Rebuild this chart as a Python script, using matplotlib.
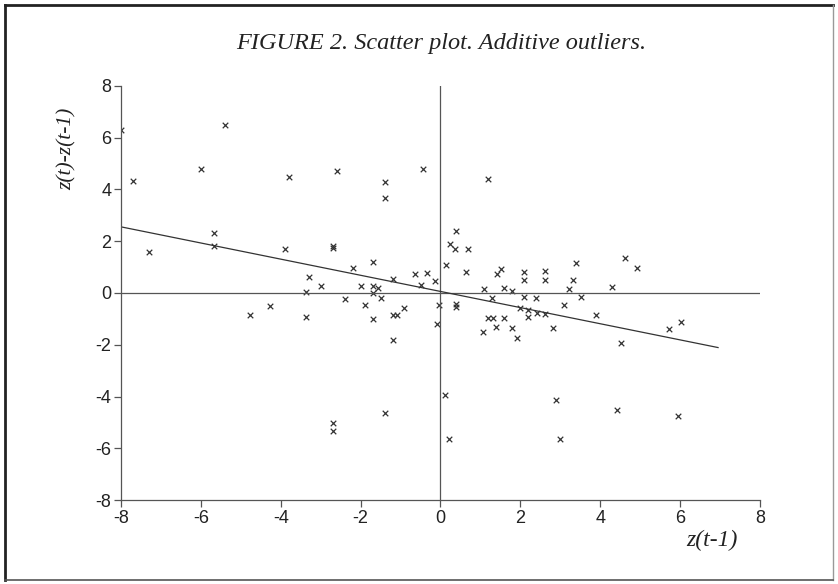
import matplotlib.pyplot as plt
import numpy as np
from matplotlib.lines import Line2D

plt.rcParams["axes.unicode_minus"] = False

# lagged level z(t-1) and first difference z(t)-z(t-1)
z_lag = [-7.99, -7.69, -7.30, -5.99, -5.40, -5.68, -5.68, -3.79, -3.89, -2.59,
         -2.68, -2.68, -1.38, -1.38, -0.44, -3.29, -3.37, -2.98, -2.18, -1.68,
         -1.99, -1.68, -1.68, -1.57, -1.48, -2.38, -1.88, -1.19, -0.65, -0.35,
         -0.14, -0.48, 0.13, 0.25, 0.36, 0.40, 0.39, 0.39, -0.03, -4.77,
         -4.28, -3.37, -1.68, -1.19, -1.08, -0.91, -0.10, -1.19, 0.11, -1.38,
         -2.68, -2.68, 0.21, 1.20, 0.70, 0.63, 1.41, 1.51, 2.10, 2.10,
         2.61, 2.61, 3.40, 3.31, 4.61, 4.91, 4.30, 1.10, 1.59, 1.80,
         3.21, 1.30, 2.10, 2.40, 3.51, 2.00, 2.20, 2.19, 2.42, 2.61,
         3.10, 3.90, 1.20, 1.31, 1.60, 1.40, 1.79, 2.81, 5.73, 6.02,
         1.07, 1.91, 4.51, 2.90, 4.41, 5.94, 3.00]
z_diff = [6.29, 4.32, 1.60, 4.80, 6.49, 2.30, 1.81, 4.50, 1.70, 4.70,
          1.83, 1.73, 4.30, 3.69, 4.79, 0.63, 0.05, 0.27, 0.98, 1.19,
          0.27, 0.27, 0.00, 0.18, -0.20, -0.24, -0.46, 0.53, 0.73, 0.76,
          0.47, 0.31, 1.08, 1.89, 1.69, 2.39, -0.44, -0.53, -0.46, -0.85,
          -0.49, -0.93, -0.99, -0.85, -0.85, -0.59, -1.20, -1.81, -3.94, -4.65,
          -5.03, -5.33, -5.65, 4.40, 1.69, 0.80, 0.73, 0.93, 0.80, 0.51,
          0.86, 0.50, 1.17, 0.51, 1.36, 0.95, 0.23, 0.17, 0.18, 0.08,
          0.14, -0.21, -0.14, -0.19, -0.14, -0.59, -0.66, -0.91, -0.79, -0.82,
          -0.46, -0.85, -0.98, -0.98, -0.98, -1.33, -1.36, -1.36, -1.40, -1.13,
          -1.52, -1.72, -1.93, -4.13, -4.54, -4.75, -5.65]

# fitted line as drawn in the figure
fit_range = [-8.0, 6.95]
fit_intercept = 0.06
fit_slope = -0.312

ticks = [-8, -6, -4, -2, 0, 2, 4, 6, 8]

fig = plt.figure(figsize=(8.38, 5.84), dpi=100)
ax = fig.add_axes([0.1444, 0.1438, 0.7625, 0.709])

ax.axhline(0, color="#555555", lw=0.9)
ax.axvline(0, color="#555555", lw=0.9)

fx = np.array(fit_range)
ax.plot(fx, fit_intercept + fit_slope * fx, color="#333333", lw=0.9)

ax.scatter(z_lag, z_diff, marker="x", s=16, color="#333333", linewidths=0.9)

ax.set_xlim(-8, 8)
ax.set_ylim(-8, 8)
ax.set_xticks(ticks)
ax.set_yticks(ticks)
ax.spines["top"].set_visible(False)
ax.spines["right"].set_visible(False)
for s in ("left", "bottom"):
    ax.spines[s].set_color("#555555")
    ax.spines[s].set_linewidth(0.9)
ax.tick_params(direction="out", length=5, width=0.9, color="#555555",
               labelsize=13, labelcolor="#222222", pad=2)
for lab in ax.get_xticklabels() + ax.get_yticklabels():
    lab.set_family("Liberation Sans")

serif = {"family": "Liberation Serif", "style": "italic", "color": "#222222"}
fig.text(0.526, 0.926, "FIGURE 2. Scatter plot. Additive outliers.",
         ha="center", va="center", fontsize=17.5, **serif)
fig.text(0.080, 0.745, "z(t)-z(t-1)", rotation=90, ha="center", va="center",
         fontsize=15.5, **serif)
fig.text(0.849, 0.075, "z(t-1)", ha="center", va="center", fontsize=17, **serif)

# frame around the whole figure: heavy top/left, light right/bottom
fig.add_artist(Line2D([0.006, 0.994], [0.991, 0.991], transform=fig.transFigure,
                      color="#222222", lw=2.0))
fig.add_artist(Line2D([0.006, 0.006], [0.007, 0.991], transform=fig.transFigure,
                      color="#222222", lw=2.0))
fig.add_artist(Line2D([0.994, 0.994], [0.007, 0.991], transform=fig.transFigure,
                      color="#999999", lw=1.0))
fig.add_artist(Line2D([0.006, 0.994], [0.007, 0.007], transform=fig.transFigure,
                      color="#555555", lw=1.2))

fig.savefig("out.png", dpi=100)
